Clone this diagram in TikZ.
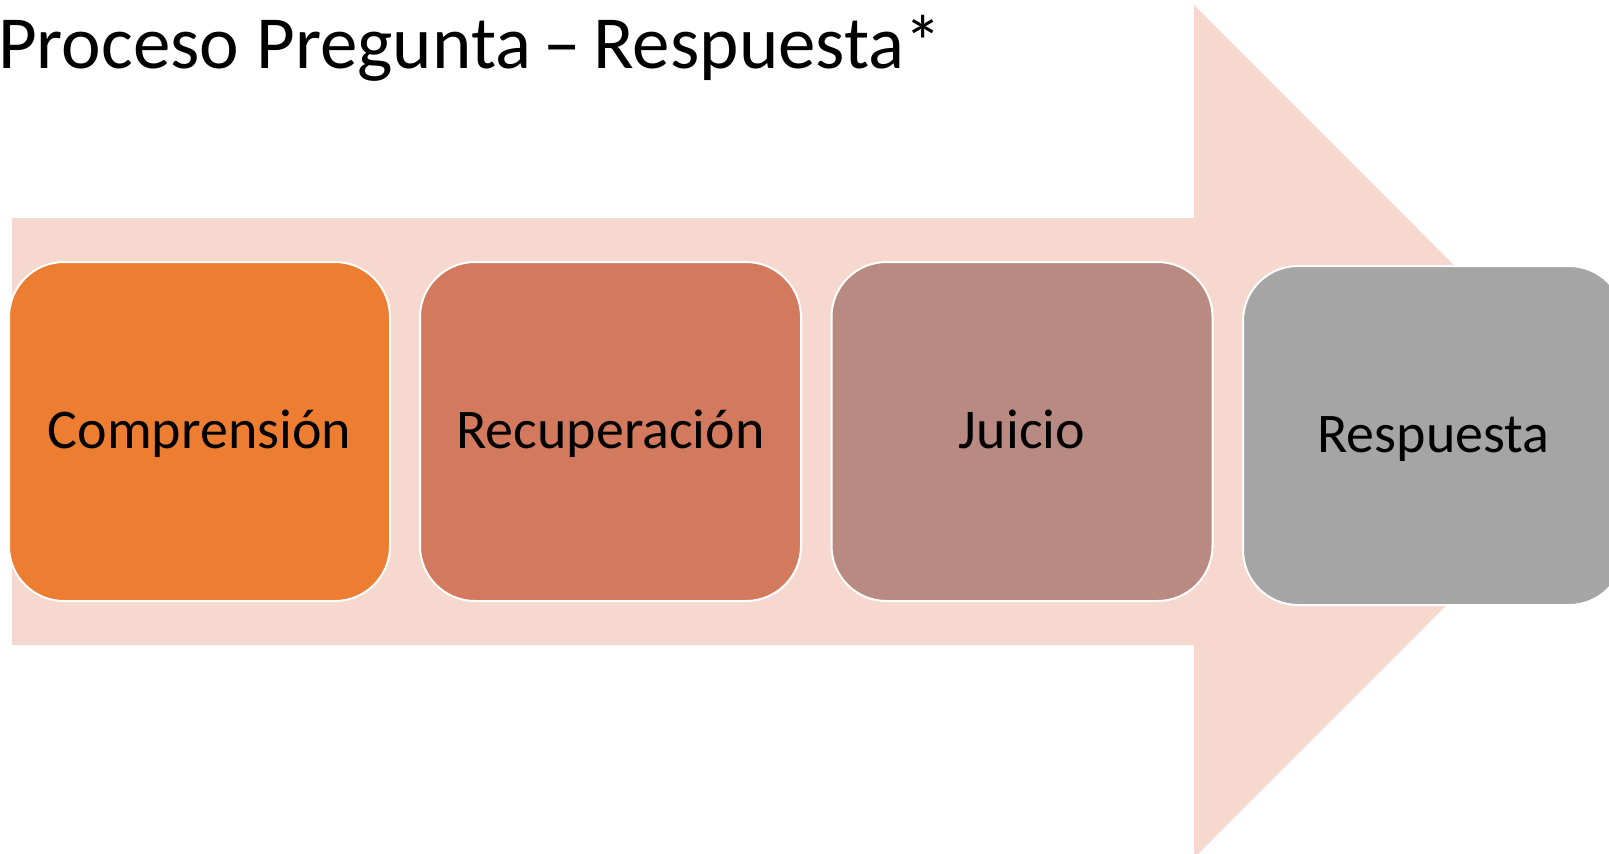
\documentclass[tikz,border=0pt]{standalone}
\usepackage{fontspec}
\setmainfont{Carlito}
\definecolor{arrowpink}{HTML}{F7D8CE}
\definecolor{cOrange}{HTML}{ED7D31}
\definecolor{cRust}{HTML}{D37A5E}
\definecolor{cMauve}{HTML}{B98A82}
\definecolor{cGrey}{HTML}{A5A5A5}
\tikzset{
  stepbox/.style={draw=white, line width=2pt, rounded corners=55pt,
    minimum width=381pt, minimum height=339pt, inner sep=0pt,
    font=\fontsize{56}{60}\selectfont, text=black,
    text height=40pt, text depth=7pt},
}
\begin{document}
\begin{tikzpicture}[x=1pt,y=-1pt]
\useasboundingbox (0,0) rectangle (1609,854);
\clip (0,0) rectangle (1609,854);
\fill[white] (0,0) rectangle (1609,854);
\fill[arrowpink] (12,218) -- (1194,218) -- (1194,5) -- (1620,431.5) -- (1194,858) -- (1194,645) -- (12,645) -- cycle;
\node[anchor=base west, inner sep=0pt, font=\fontsize{75}{80}\selectfont] (title) at (-2,68) {Proceso Pregunta\,–\,Respuesta*};
\node[stepbox, fill=cOrange] (comp) at (199.5,431.5) {Comprensión};
\node[stepbox, fill=cRust] (recu) at (610.5,431.5) {Recuperación};
\node[stepbox, fill=cMauve] (juic) at (1022,431.5) {Juicio};
\node[stepbox, fill=cGrey] (resp) at (1433.5,435.5) {Respuesta};
\end{tikzpicture}
\end{document}
